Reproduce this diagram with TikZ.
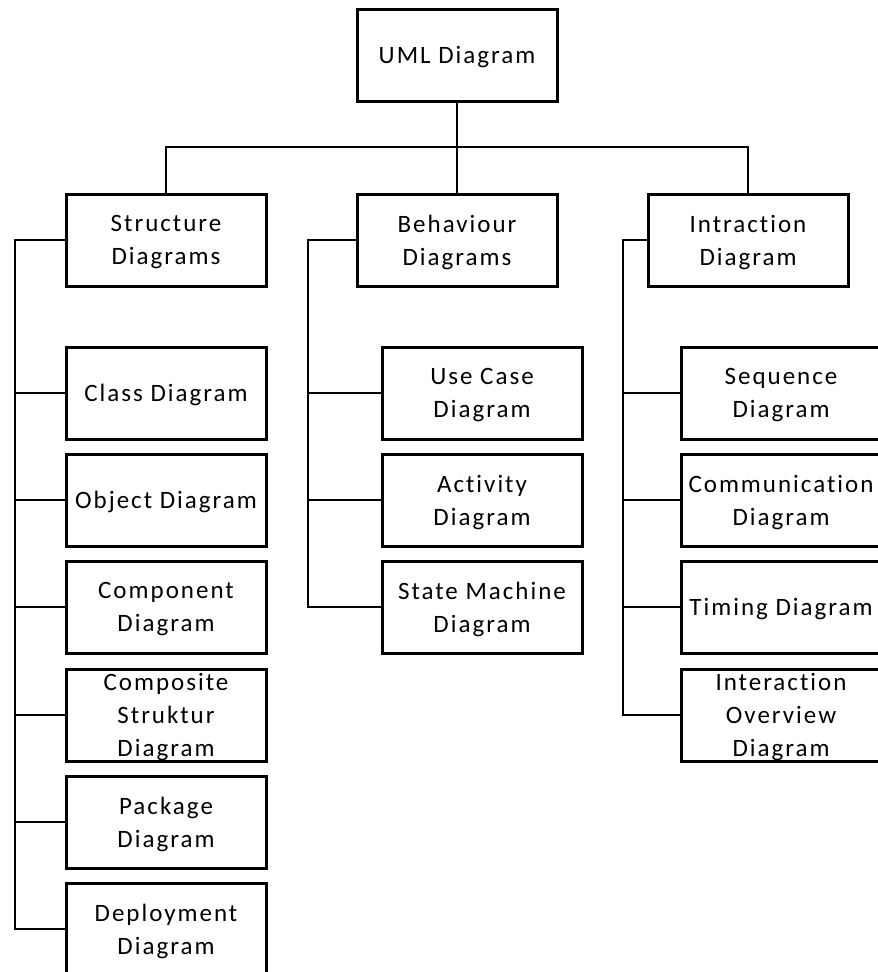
\documentclass[tikz,border=0pt]{standalone}
\usepackage{fontspec}
\setmainfont{Carlito}[LetterSpace=8,Ligatures=NoCommon]
\begin{document}
\begin{tikzpicture}[x=1pt,y=-1pt,
  box/.style={draw=black,line width=3pt,minimum width=200pt,minimum height=92pt,
    inner sep=0pt,align=center,text depth=0pt,
    font=\fontsize{25}{33}\selectfont},
  conn/.style={draw=black,line width=2.6pt}]
\clip (0,0) rectangle (878,972);
\fill[white] (0,0) rectangle (878,972);
% top level
\node[box] (uml) at (457,55) {UML Diagram};
\node[box] (s) at (166,240) {Structure\\Diagrams};
\node[box] (b) at (457,240) {Behaviour\\Diagrams};
\node[box] (i) at (748,240) {Intraction\\Diagram};
% structure children
\node[box] (s1) at (166,393) {Class Diagram};
\node[box] (s2) at (166,500) {Object Diagram};
\node[box] (s3) at (166,607) {Component\\Diagram};
\node[box] (s4) at (166,715) {Composite\\Struktur\\Diagram};
\node[box] (s5) at (166,822) {Package\\Diagram};
\node[box] (s6) at (166,929) {Deployment\\Diagram};
% behaviour children
\node[box] (b1) at (482,393) {Use Case\\Diagram};
\node[box] (b2) at (482,500) {Activity\\Diagram};
\node[box] (b3) at (482,607) {State Machine\\Diagram};
% interaction children
\node[box] (i1) at (781,393) {Sequence\\Diagram};
\node[box] (i2) at (781,500) {Communication\\Diagram};
\node[box] (i3) at (781,607) {Timing Diagram};
\node[box] (i4) at (781,715) {Interaction\\Overview\\Diagram};
% top connectors
\coordinate (bus) at (457,147);
\draw[conn] (uml.south) -- (b.north);
\draw[conn] (s.north) -- (s.north |- bus) -- (i.north |- bus) -- (i.north);
% structure branch
\coordinate (sj) at (15,240);
\draw[conn] (s.west) -- (sj) |- (s6.west);
\foreach \n in {s1,s2,s3,s4,s5}{\draw[conn] (sj |- \n.west) -- (\n.west);}
% behaviour branch
\coordinate (bj) at (308,240);
\draw[conn] (b.west) -- (bj) |- (b3.west);
\foreach \n in {b1,b2}{\draw[conn] (bj |- \n.west) -- (\n.west);}
% interaction branch
\coordinate (ij) at (623,240);
\draw[conn] (i.west) -- (ij) |- (i4.west);
\foreach \n in {i1,i2,i3}{\draw[conn] (ij |- \n.west) -- (\n.west);}
\end{tikzpicture}
\end{document}
